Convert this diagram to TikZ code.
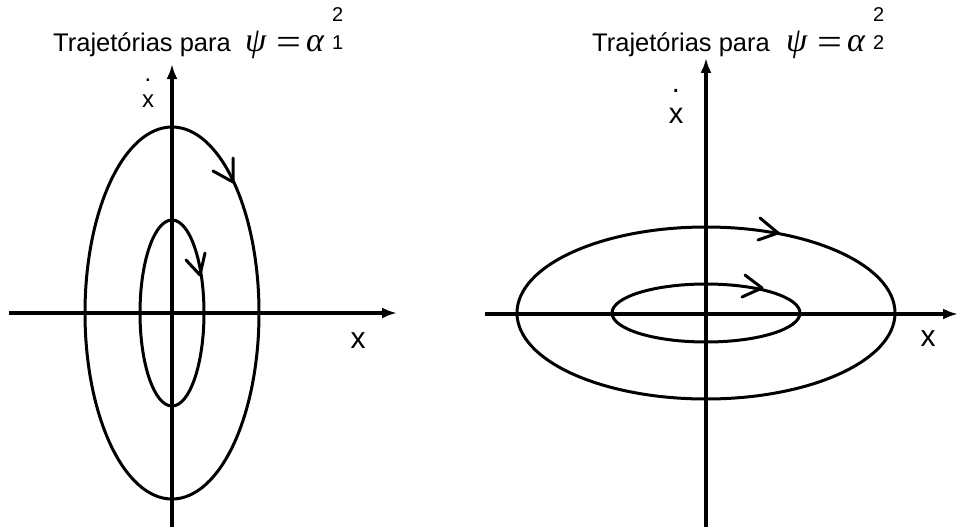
\documentclass[tikz,border=0pt]{standalone}
\usepackage{graphicx}
\usepackage{fontspec}
\setmainfont{Liberation Sans}
\newfontfamily\grk{Liberation Serif}
\usetikzlibrary{arrows.meta}
\begin{document}
\begin{tikzpicture}[x=1pt,y=-1pt,
  axis/.style={line width=3.2pt,-{Latex[length=15pt,width=11pt]}},
  orbit/.style={line width=3pt},
  barb/.style={line width=3pt,line cap=round,line join=round},
  ttl/.style={inner sep=0pt,anchor=base west,font=\fontsize{25.5}{30}\selectfont},
  eq/.style={inner sep=0pt,anchor=base west,font=\grk\itshape\fontsize{34}{40}\selectfont},
  idx/.style={inner sep=0pt,anchor=base west,font=\fontsize{20}{24}\selectfont},
  xl/.style={inner sep=0pt,anchor=base,font=\fontsize{30}{34}\selectfont},
  xd/.style={inner sep=0pt,anchor=south,align=center}]
\useasboundingbox (0,0) rectangle (958,527);
% ---------- left panel ----------
\coordinate (Lo) at (172,313);
\coordinate (Lb) at (172,527);
\coordinate (Lt) at (172,64);
\coordinate (Ll) at (9,313);
\coordinate (Lr) at (397,313);
\draw[axis] (Lb) -- (Lt);
\draw[axis] (Ll) -- (Lr);
\draw[orbit] (Lo) ellipse [x radius=87pt, y radius=186pt];
\draw[orbit] (Lo) ellipse [x radius=32pt, y radius=93pt];
\draw[barb] (213,171) -- (233,182) -- (233,158);
\draw[barb] (186,260) -- (200,275) -- (205,253);
\node[ttl] (Ltitle) at (53,52) {Trajetórias para};
\node[eq] (Leq) at (245,52) {\makebox[31pt][l]{ψ}\makebox[30pt][l]{\upshape\raisebox{-2pt}{\scalebox{1.3}[1.1]{=}}}α};
\node[idx] (Lsup) at (332,22) {2};
\node[idx] (Lsub) at (332,49) {1};
\node[xd,font=\fontsize{24}{25.5}\selectfont] (Lxd) at (148,107.5) {.\\x};
\node[xl] (Lx) at (358,348) {x};
% ---------- right panel ----------
\coordinate (Ro) at (706,313);
\coordinate (Rb) at (706,527);
\coordinate (Rt) at (706,58);
\coordinate (Rl) at (485,314);
\coordinate (Rr) at (958,314);
\draw[axis] (Rb) -- (Rt);
\draw[axis] (Rl) -- (Rr);
\draw[orbit] (Ro) ellipse [x radius=189pt, y radius=86pt];
\draw[orbit] (Ro) ellipse [x radius=94pt, y radius=29pt];
\draw[barb] (760,218) -- (778,233) -- (758,240);
\draw[barb] (745,275) -- (762,288) -- (742,297);
\node[ttl] (Rtitle) at (592,52) {Trajetórias para};
\node[eq] (Req) at (786,52) {\makebox[31pt][l]{ψ}\makebox[30pt][l]{\upshape\raisebox{-2pt}{\scalebox{1.3}[1.1]{=}}}α};
\node[idx] (Rsup) at (873,22) {2};
\node[idx] (Rsub) at (873,49) {2};
\node[xd,font=\fontsize{29}{31}\selectfont] (Rxd) at (676,123.5) {.\\x};
\node[xl] (Rx) at (928,346) {x};
\end{tikzpicture}
\end{document}
